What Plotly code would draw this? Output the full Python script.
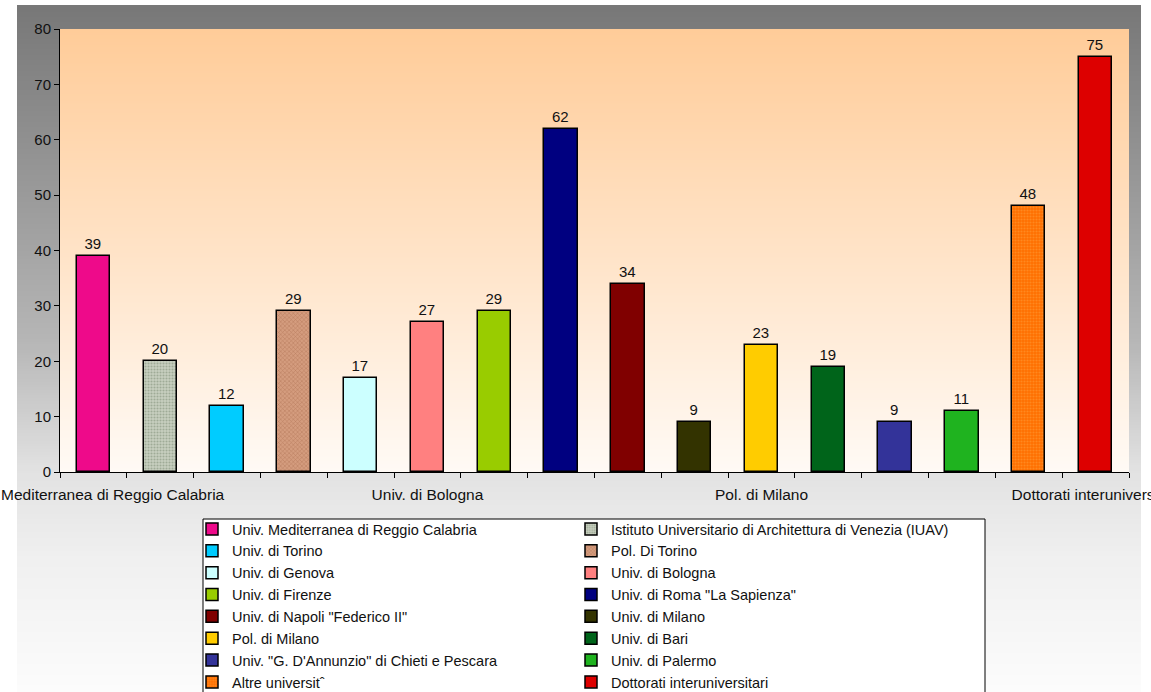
import base64
import struct
import zlib
import plotly.graph_objects as go

# ---------------- data ----------------
categories = [
    "Univ. Mediterranea di Reggio Calabria",
    "Istituto Universitario di Architettura di Venezia (IUAV)",
    "Univ. di Torino",
    "Pol. Di Torino",
    "Univ. di Genova",
    "Univ. di Bologna",
    "Univ. di Firenze",
    "Univ. di Roma \"La Sapienza\"",
    "Univ. di Napoli \"Federico II\"",
    "Univ. di Milano",
    "Pol. di Milano",
    "Univ. di Bari",
    "Univ. \"G. D'Annunzio\" di Chieti e Pescara",
    "Univ. di Palermo",
    "Altre universitˆ",
    "Dottorati interuniversitari",
]
values = [39, 20, 12, 29, 17, 27, 29, 62, 34, 9, 23, 19, 9, 11, 48, 75]
colors = [
    "#EE0A8A", "#C4CCBC", "#00CCFF", "#C8967A", "#CCFFFF", "#FF8080",
    "#99CC00", "#000080", "#800000", "#333300", "#FFCC00", "#00641A",
    "#333399", "#1FB31F", "#FF7000", "#DD0000",
]
tick_positions = [0, 5, 10, 15]
tick_labels = [
    "Univ. Mediterranea di Reggio Calabria",
    "Univ. di Bologna",
    "Pol. di Milano",
    "Dottorati interuniversitari",
]
y_ticks = [0, 10, 20, 30, 40, 50, 60, 70, 80]

# ---------------- geometry helpers ----------------
W, H = 1151, 692
L, R, T, B = 60, 1129, 29, 472
PW, PH = R - L, B - T


def px(x):
    return (x - L) / PW


def py(y):
    return (B - y) / PH


def lerp_stops(stops, t):
    for (t0, c0), (t1, c1) in zip(stops[:-1], stops[1:]):
        if t0 <= t <= t1:
            f = 0 if t1 == t0 else (t - t0) / (t1 - t0)
            return tuple(int(round(a + (b - a) * f)) for a, b in zip(c0, c1))
    return stops[-1][1]


def png_gradient(stops, n=256, w=4):
    raw = b""
    for i in range(n):
        c = lerp_stops(stops, i / (n - 1))
        raw += b"\x00" + bytes(c) * w

    def chunk(tag, data):
        return (struct.pack(">I", len(data)) + tag + data
                + struct.pack(">I", zlib.crc32(tag + data) & 0xFFFFFFFF))

    ihdr = struct.pack(">IIBBBBB", w, n, 8, 2, 0, 0, 0)
    png = (b"\x89PNG\r\n\x1a\n" + chunk(b"IHDR", ihdr)
           + chunk(b"IDAT", zlib.compress(raw)) + chunk(b"IEND", b""))
    return "data:image/png;base64," + base64.b64encode(png).decode()


# outer gray gradient (from y=5 to y=692)
oy0, oy1 = 5, 692
gray_px = [(5, 120), (150, 146), (340, 182), (470, 226), (560, 240), (692, 252)]
outer_stops = [((y - oy0) / (oy1 - oy0), (g, g, g)) for y, g in gray_px]
outer_src = png_gradient(outer_stops)
plot_src = png_gradient([(0, (255, 204, 153)), (1, (255, 250, 245))])

patterns = {
    1: dict(shape=".", bgcolor="#C8D0C0", fgcolor="#75856E", size=3, solidity=0.4),
    3: dict(shape="x", bgcolor="#D49C7E", fgcolor="#9A5A3A", size=3, solidity=0.3),
    14: dict(shape=".", bgcolor="#FF7000", fgcolor="#FFA040", size=3, solidity=0.4),
}

FONT = "Liberation Sans, Arial, Helvetica, sans-serif"
LEG_FONT = 14.5

fig = go.Figure()
for i, (name, v, c) in enumerate(zip(categories, values, colors)):
    marker = dict(color=c, line=dict(color="#000000", width=1.5))
    if i in patterns:
        marker["pattern"] = patterns[i]
    fig.add_trace(go.Bar(
        x=[i], y=[v], name=name, width=0.5, marker=marker,
        text=[v], texttemplate="%{y}", textposition="outside",
        textfont=dict(size=15, color="#111111"), cliponaxis=False,
        legend="legend" if i % 2 == 0 else "legend2",
    ))

legend_common = dict(
    orientation="v", xref="paper", yref="container",
    y=1 - 513 / H, xanchor="left", yanchor="top",
    bgcolor="rgba(0,0,0,0)", borderwidth=0,
    font=dict(size=LEG_FONT, color="#111111"),
    traceorder="normal", tracegroupgap=0,
)

fig.update_layout(
    width=W, height=H, autosize=False,
    margin=dict(l=L, r=W - R, t=T, b=H - B, pad=0),
    paper_bgcolor="#FFFFFF",
    plot_bgcolor="rgba(0,0,0,0)",
    font=dict(family=FONT, size=15, color="#111111"),
    showlegend=True,
    bargap=0,
    images=[
        dict(source=outer_src, xref="paper", yref="paper",
             x=px(17), y=py(oy0), sizex=(1141 - 17) / PW, sizey=(oy1 - oy0) / PH,
             xanchor="left", yanchor="top", sizing="stretch", layer="below"),
        dict(source=plot_src, xref="paper", yref="paper",
             x=0, y=1, sizex=1, sizey=1,
             xanchor="left", yanchor="top", sizing="stretch", layer="below"),
    ],
    shapes=[
        dict(type="rect", xref="paper", yref="paper",
             x0=px(203), x1=px(985), y0=py(519), y1=py(705),
             fillcolor="#FFFFFF", line=dict(color="#000000", width=1),
             layer="above"),
    ],
    xaxis=dict(
        range=[-0.5, 15.5], tickmode="array", tickvals=tick_positions,
        ticktext=tick_labels, ticks="", showline=True, linecolor="#000000",
        linewidth=1, showgrid=False, zeroline=False, automargin=False,
        ticklabeloverflow="allow", ticklabelstandoff=8,
        tickfont=dict(size=15.5, color="#111111"),
        minor=dict(tickmode="array", tickvals=[k - 0.5 for k in range(17)],
                   ticks="outside", ticklen=5, tickcolor="#000000", tickwidth=1,
                   showgrid=False),
    ),
    yaxis=dict(
        range=[0, 80], tickmode="array", tickvals=y_ticks, ticks="outside",
        ticklen=5, tickcolor="#000000", showline=True, linecolor="#000000",
        linewidth=1, showgrid=False, zeroline=False, automargin=False,
        tickfont=dict(size=15, color="#111111"),
    ),
    legend=dict(x=px(192), **legend_common),
    legend2=dict(x=px(571), **legend_common),
)

fig.write_html(
    "out.html",
    config={"displayModeBar": False},
    post_script="document.body.style.margin='0';",
)
